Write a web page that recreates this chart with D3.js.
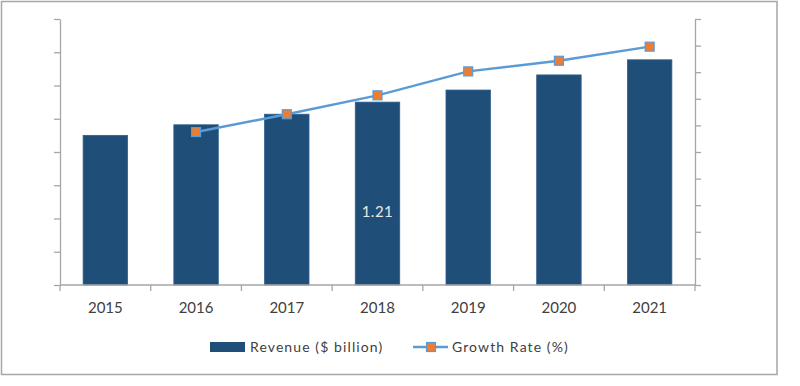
<!DOCTYPE html>
<html>
<head>
<meta charset="utf-8">
<script src="https://cdn.jsdelivr.net/npm/d3@7"></script>
<style>
  body { margin: 0; background: #fff; }
  text { font-family: Lato, "Liberation Sans", sans-serif; }
</style>
</head>
<body>
<div id="chart"></div>
<script>
var years = ['2015', '2016', '2017', '2018', '2019', '2020', '2021'];
var revenue = [0.99, 1.06, 1.13, 1.21, 1.29, 1.39, 1.49];
var growthYears = ['2016', '2017', '2018', '2019', '2020', '2021'];
var growth = [5.75, 6.42, 7.13, 8.03, 8.43, 8.96];
var labelled = ['2018'];

draw_chart();
function draw_chart(){
    var width = 800, height = 386;
    var margin = {top: 19, right: 105, bottom: 101, left: 60};
    var plotW = width - margin.left - margin.right,
        plotH = height - margin.top - margin.bottom;

    var svg = d3.select('#chart')
      .append('svg')
      .attr('width', width)
      .attr('height', height);

    // outer frame
    svg.append('rect')
      .attr('x', 1.5).attr('y', 1.5)
      .attr('width', 775.5).attr('height', 373)
      .attr('fill', 'none')
      .attr('stroke', '#a6a6a6')
      .attr('stroke-width', 1.5);

    var g = svg.append('g')
      .attr('transform', 'translate(' + margin.left + ',' + margin.top + ')');

    var x = d3.scaleBand().domain(years).range([0, plotW]).paddingInner(0.51).paddingOuter(0.255);
    var y = d3.scaleLinear().domain([0, 1.76]).range([plotH, 0]);
    var y2 = d3.scaleLinear().domain([0, 10]).range([plotH, 0]);

    var axisColor = '#a6a6a6';

    // left axis, no labels
    var left = g.append('g')
      .call(d3.axisLeft(y).tickValues(d3.range(0, 9).map(function(i){ return i * 0.22; }))
            .tickSize(6).tickSizeOuter(0).tickFormat(''));
    // right axis, no labels
    var right = g.append('g')
      .attr('transform', 'translate(' + plotW + ',0)')
      .call(d3.axisRight(y2).ticks(10).tickSize(6).tickSizeOuter(0).tickFormat(''));
    [left, right].forEach(function(a){
        a.selectAll('path, line').attr('stroke', axisColor).attr('stroke-width', 1.3);
    });

    // bars
    g.selectAll('rect.bar')
      .data(revenue)
      .enter()
      .append('rect')
      .attr('class', 'bar')
      .attr('x', function(d, i){ return x(years[i]); })
      .attr('width', x.bandwidth())
      .attr('y', function(d){ return y(d); })
      .attr('height', function(d){ return plotH - y(d); })
      .attr('fill', '#1f4e79')
      .attr('stroke', '#2e5f8f')
      .attr('stroke-width', 0.8);

    // data label
    g.selectAll('text.dlabel')
      .data(labelled)
      .enter()
      .append('text')
      .attr('class', 'dlabel')
      .attr('x', function(d){ return x(d) + x.bandwidth() / 2; })
      .attr('y', plotH - 68)
      .attr('text-anchor', 'middle')
      .attr('fill', '#e8e8e8')
      .style('font-size', '15px')
      .style('letter-spacing', '0.5px')
      .text(function(d){ return revenue[years.indexOf(d)].toFixed(2); });

    // x axis with ticks between categories
    var xAxis = g.append('g').attr('transform', 'translate(0,' + plotH + ')');
    xAxis.append('line')
      .attr('x1', 0).attr('x2', plotW)
      .attr('stroke', axisColor).attr('stroke-width', 1.3);
    var step = x.step();
    xAxis.selectAll('line.tick')
      .data(d3.range(0, years.length + 1))
      .enter()
      .append('line')
      .attr('class', 'tick')
      .attr('x1', function(i){ return i * step; })
      .attr('x2', function(i){ return i * step; })
      .attr('y1', 0).attr('y2', 6)
      .attr('stroke', axisColor).attr('stroke-width', 1.3);
    xAxis.selectAll('text')
      .data(years)
      .enter()
      .append('text')
      .attr('x', function(d){ return x(d) + x.bandwidth() / 2; })
      .attr('y', 28)
      .attr('text-anchor', 'middle')
      .attr('fill', '#404040')
      .style('font-size', '15px')
      .text(function(d){ return d; });

    // growth line
    var line = d3.line()
      .x(function(d, i){ return x(growthYears[i]) + x.bandwidth() / 2; })
      .y(function(d){ return y2(d); });
    g.append('path')
      .datum(growth)
      .attr('d', line)
      .attr('fill', 'none')
      .attr('stroke', '#5b9bd5')
      .attr('stroke-width', 2.4);
    g.selectAll('rect.marker')
      .data(growth)
      .enter()
      .append('rect')
      .attr('class', 'marker')
      .attr('x', function(d, i){ return x(growthYears[i]) + x.bandwidth() / 2 - 4.5; })
      .attr('y', function(d){ return y2(d) - 4.5; })
      .attr('width', 9).attr('height', 9)
      .attr('fill', '#ed7d31')
      .attr('stroke', '#5b9bd5')
      .attr('stroke-width', 1.2);

    // legend
    var lg = svg.append('g').attr('transform', 'translate(0,347)');
    lg.append('rect')
      .attr('x', 210).attr('y', -5).attr('width', 35).attr('height', 10)
      .attr('fill', '#1f4e79');
    lg.append('text')
      .attr('x', 250).attr('y', 5)
      .attr('fill', '#404040')
      .style('font-size', '14px')
      .style('letter-spacing', '1.1px')
      .text('Revenue ($ billion)');
    lg.append('line')
      .attr('x1', 413).attr('x2', 448)
      .attr('stroke', '#5b9bd5').attr('stroke-width', 2.4);
    lg.append('rect')
      .attr('x', 426.5).attr('y', -4.5).attr('width', 9).attr('height', 9)
      .attr('fill', '#ed7d31').attr('stroke', '#5b9bd5').attr('stroke-width', 1.2);
    lg.append('text')
      .attr('x', 452).attr('y', 5)
      .attr('fill', '#404040')
      .style('font-size', '14px')
      .style('letter-spacing', '1.1px')
      .text('Growth Rate (%)');
}
</script>
</body>
</html>
